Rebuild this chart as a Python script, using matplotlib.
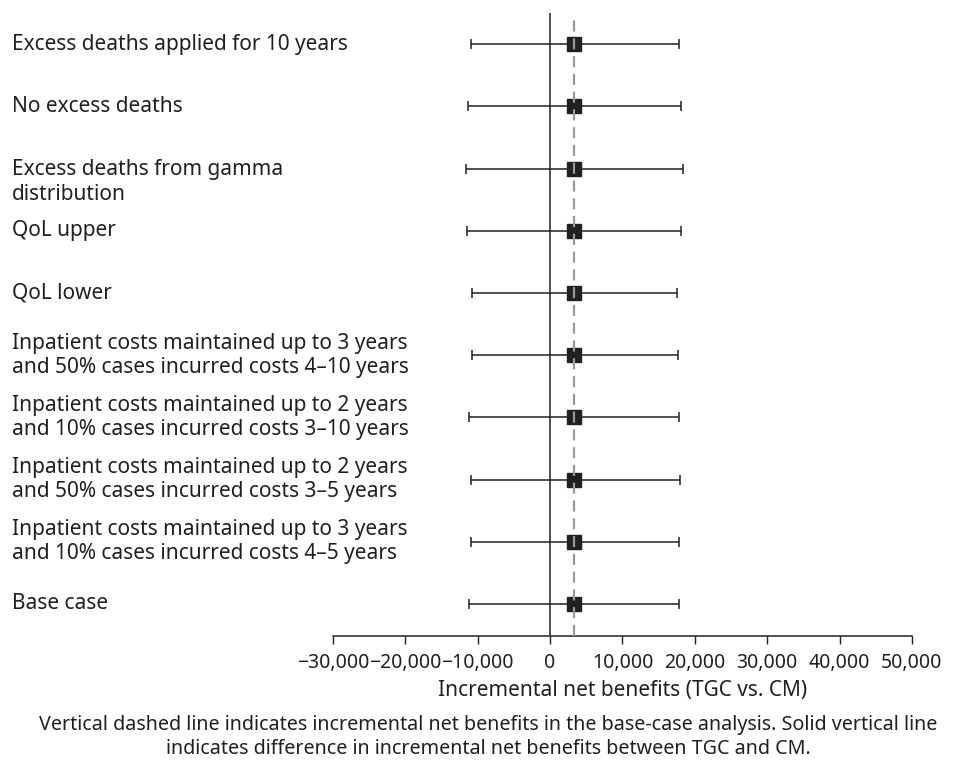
import matplotlib
matplotlib.use("Agg")
import matplotlib.pyplot as plt
import matplotlib.transforms as mtransforms
from matplotlib.ticker import FuncFormatter

# Scenarios listed top to bottom
scenarios = [
    "Excess deaths applied for 10 years",
    "No excess deaths",
    "Excess deaths from gamma\ndistribution",
    "QoL upper",
    "QoL lower",
    "Inpatient costs maintained up to 3 years\nand 50% cases incurred costs 4\u201310 years",
    "Inpatient costs maintained up to 2 years\nand 10% cases incurred costs 3\u201310 years",
    "Inpatient costs maintained up to 2 years\nand 50% cases incurred costs 3\u20135 years",
    "Inpatient costs maintained up to 3 years\nand 10% cases incurred costs 4\u20135 years",
    "Base case",
]
inb_mean = [3250, 3250, 3250, 3250, 3250, 3250, 3250, 3250, 3250, 3250]
inb_low = [-11000, -11300, -11650, -11550, -10800, -10800, -11200, -11000, -11000, -11200]
inb_high = [17800, 18050, 18350, 18150, 17550, 17650, 17850, 17900, 17850, 17850]
base_inb = 3250

xticks = [-30000, -20000, -10000, 0, 10000, 20000, 30000, 40000, 50000]

ink = "#231f20"
plt.rcParams["font.family"] = ["Noto Sans", "DejaVu Sans"]
plt.rcParams["text.color"] = ink
plt.rcParams["axes.labelcolor"] = ink
plt.rcParams["xtick.color"] = ink

fig = plt.figure(figsize=(9.63, 7.60), dpi=100)
ax = fig.add_axes([0.3458, 0.1632, 0.6012, 0.8197])

n = len(scenarios)
ypos = list(range(n, 0, -1))

ax.axvline(0, color=ink, lw=1.1, zorder=1)
ax.axvline(base_inb, ymax=0.99, color="#9a9a9a", lw=1.6, ls=(0, (5, 3)), zorder=3)

xerr = [[m - lo for m, lo in zip(inb_mean, inb_low)],
        [hi - m for m, hi in zip(inb_mean, inb_high)]]
ax.errorbar(inb_mean, ypos, xerr=xerr, fmt="s", color=ink, ms=9.5,
            elinewidth=1.1, capsize=3.5, capthick=1.1, zorder=2)

ax.set_xlim(-30000, 50000)
ax.set_ylim(0.485, 10.5)
ax.set_xticks(xticks)
ax.xaxis.set_major_formatter(FuncFormatter(
    lambda v, p: f"{v:,.0f}".replace("-", "\u2212")))
ax.tick_params(axis="x", labelsize=14, length=6, width=1, pad=6.5)
ax.set_yticks([])
for side in ["left", "right", "top"]:
    ax.spines[side].set_visible(False)
ax.spines["bottom"].set_color(ink)
ax.spines["bottom"].set_linewidth(1.1)
ax.set_xlabel("Incremental net benefits (TGC vs. CM)", fontsize=15, labelpad=5)

# Scenario labels on the left; gamma label hangs from its row
trans = mtransforms.blended_transform_factory(fig.transFigure, ax.transData)
for label, y in zip(scenarios, ypos):
    if label.startswith("Excess deaths from gamma"):
        t = mtransforms.offset_copy(trans, fig=fig, x=0, y=6.5, units="points")
        ax.text(0.0125, y, label, transform=t, ha="left", va="top",
                fontsize=15, linespacing=1.2)
    else:
        ax.text(0.0125, y, label, transform=trans, ha="left", va="center",
                fontsize=15, linespacing=1.2)

fig.text(0.507, 0.0303,
         "Vertical dashed line indicates incremental net benefits in the base-case analysis. "
         "Solid vertical line\nindicates difference in incremental net benefits between TGC and CM.",
         ha="center", va="center", fontsize=14.2, linespacing=1.22)

fig.savefig("out.png", dpi=100)
